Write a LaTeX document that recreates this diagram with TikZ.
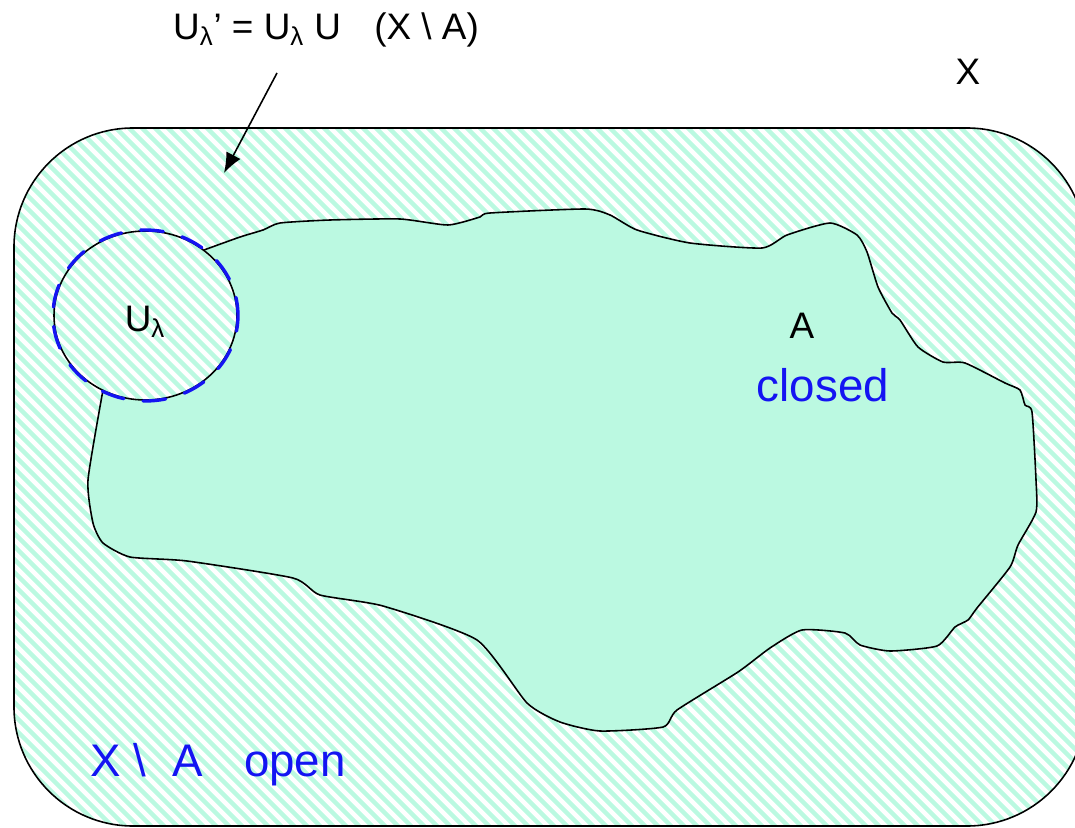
\documentclass[tikz,border=0pt]{standalone}
\usepackage{fontspec}
\setmainfont{Liberation Sans}
\usepackage{tikz}
\usetikzlibrary{arrows.meta}
\definecolor{mint}{HTML}{BBF9E1}
\definecolor{pen}{HTML}{1414F2}

\begin{document}
\begin{tikzpicture}[x=0.02cm,y=-0.02cm,
  every node/.style={font=\fontsize{21}{25}\selectfont,inner sep=0pt},
  hatch/.style={mint,line width=2.6pt},
  handwrite/.style={pen,font=\fontsize{26}{30}\selectfont},
  outline/.style={black,line width=0.9pt},
  arr/.style={-{Latex[length=4mm,width=3.2mm]},line width=0.9pt}
]
\useasboundingbox (0,0) rectangle (1075,828);
\clip (0,0) rectangle (1075,828);

% the space X, hatched
\begin{scope}
  \clip[rounded corners=2.38cm] (14,128) rectangle (1086,826);
  \foreach \c in {-1000,-987,...,1100}
    \draw[hatch] (\c,0) -- ++(1000,1000);
\end{scope}

% the closed set A
\fill[mint] plot[smooth,tension=0.35] coordinates {
  (204,250) (240,237) (263,230) (280,223) (330,220) (400,219) (448,225)
  (480,217) (490,213) (585,209) (610,215) (637,230) (690,243) (762,248)
  (787,235) (830,223) (857,235) (867,252) (878,287) (892,313) (900,320)
  (918,347) (943,362) (965,363) (1005,383) (1020,390) (1025,405) (1032,412)
  (1036,480) (1036,512) (1018,545) (1010,567) (977,608) (968,620) (955,627)
  (937,646) (890,651) (860,645) (845,633) (802,630) (770,648) (738,672)
  (677,710) (663,727) (600,731) (560,722) (527,703) (477,640) (383,606)
  (320,595) (293,578) (187,561) (130,557) (103,543) (93,523) (88,480)
  (103,390)} -- (145,315) -- cycle;

% the open set U_lambda, hatched again
\begin{scope}
  \clip (145.5,315.5) ellipse [x radius=91.5,y radius=84.5];
  \fill[white] (50,225) rectangle (240,405);
  \foreach \c in {-1000,-987,...,1100}
    \draw[hatch] (\c,0) -- ++(1000,1000);
\end{scope}

% outlines
\draw[outline,rounded corners=2.38cm] (14,128) rectangle (1086,826);
\draw[outline] plot[smooth,tension=0.35] coordinates {
  (204,250) (240,237) (263,230) (280,223) (330,220) (400,219) (448,225)
  (480,217) (490,213) (585,209) (610,215) (637,230) (690,243) (762,248)
  (787,235) (830,223) (857,235) (867,252) (878,287) (892,313) (900,320)
  (918,347) (943,362) (965,363) (1005,383) (1020,390) (1025,405) (1032,412)
  (1036,480) (1036,512) (1018,545) (1010,567) (977,608) (968,620) (955,627)
  (937,646) (890,651) (860,645) (845,633) (802,630) (770,648) (738,672)
  (677,710) (663,727) (600,731) (560,722) (527,703) (477,640) (383,606)
  (320,595) (293,578) (187,561) (130,557) (103,543) (93,523) (88,480)
  (103,390)};
\draw[outline] (145.5,315.5) ellipse [x radius=91.5,y radius=84.5];
\draw[pen,line width=1.9pt,line cap=round,dash pattern=on 13pt off 11pt,dash phase=4pt]
  (145.5,315.5) ellipse [x radius=92.5,y radius=85.5];

% labels
\node (union) at (326,30) {U\textsubscript{λ}’ = U\textsubscript{λ} U\hspace{0.9em}(X \textbackslash{} A)};
\node (space) at (968,72) {X};
\node (ulam) at (145,322) {U\textsubscript{λ}};
\node (setA) at (802,326) {A};
\node[handwrite] (closed) at (823,385) {closed};
\node[handwrite] (open) at (218,765) {X \textbackslash\hspace{0.3em} A\hspace{0.9em}open};

\coordinate (tail) at (277,73);
\coordinate (head) at (224,173);
\draw[arr] (tail) -- (head);
\end{tikzpicture}
\end{document}
